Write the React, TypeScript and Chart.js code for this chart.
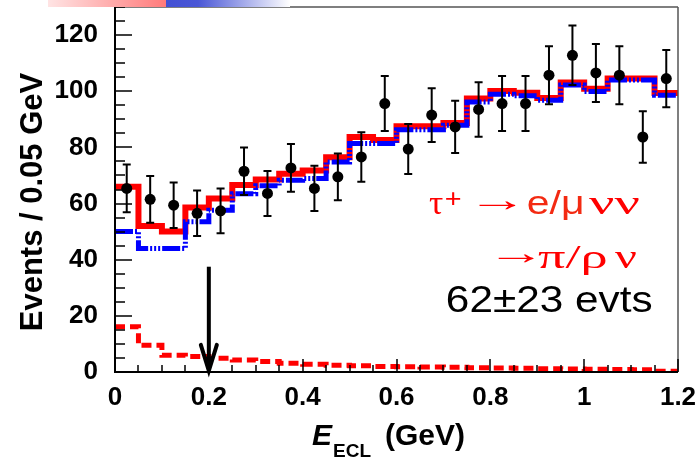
import React, { useEffect, useRef } from "react";
import { Chart, registerables } from "chart.js";

Chart.register(...registerables);

// Bin edges of E_ECL (GeV), 0.05 GeV wide
const binEdges = [
  0, 0.05, 0.1, 0.15, 0.2, 0.25, 0.3, 0.35, 0.4, 0.45, 0.5, 0.55, 0.6,
  0.65, 0.7, 0.75, 0.8, 0.85, 0.9, 0.95, 1.0, 1.05, 1.1, 1.15, 1.2,
];

// Observed events per bin and their uncertainties
const dataCounts = [
  65.4, 61.5, 59.4, 56.5, 57.4, 71.5, 63.6, 72.7, 65.4, 69.5, 76.6, 95.6,
  79.4, 91.5, 87.3, 93.5, 95.6, 95.6, 105.7, 112.8, 106.5, 105.7, 83.7, 104.5,
];
const dataErrors = [
  8.5, 8.3, 8.1, 8.1, 8.0, 8.5, 8.0, 8.5, 8.1, 8.3, 8.8, 9.8,
  8.9, 9.6, 9.3, 9.7, 9.8, 9.8, 10.3, 10.6, 10.3, 10.3, 9.2, 10.2,
];

// Total expectation (red)
const totalExpected = [
  66.0, 52.0, 50.0, 58.6, 61.8, 66.6, 68.6, 70.6, 71.8, 76.5, 83.7, 82.6,
  87.5, 87.5, 88.7, 97.4, 100.1, 99.5, 97.6, 103.1, 100.9, 104.5, 104.5, 99.4,
];

// Expectation without the signal component (blue)
const otherExpected = [
  50.0, 44.0, 44.0, 53.5, 57.6, 63.5, 66.3, 68.3, 68.9, 74.8, 81.4, 81.4,
  86.3, 86.3, 87.9, 96.2, 98.9, 98.4, 96.8, 102.2, 99.9, 104.0, 104.0, 98.6,
];

// Signal shape, tau -> e/mu nu nu and pi/rho nu (red dashed)
const signalShape = [
  16.1, 9.5, 6.0, 5.5, 4.9, 4.3, 3.7, 3.1, 2.8, 2.4, 2.2, 2.0,
  1.9, 1.8, 1.7, 1.5, 1.4, 1.3, 1.2, 1.1, 1.0, 0.9, 0.8, 0.3,
];

// Selection cut on E_ECL, and the vertical extent of its arrow (events)
const cutValue = 0.2;
const arrowFrom = 37.5;
const arrowTo = -1;

const xTickValues = [0, 0.2, 0.4, 0.6, 0.8, 1.0, 1.2];
const xTickLabels = ["0", "0.2", "0.4", "0.6", "0.8", "1", "1.2"];
const yTickValues = [0, 20, 40, 60, 80, 100, 120];

const RED = "#ff0000";
const ORANGE_RED = "#f32a12";
const BLUE = "#0000ff";
const SANS = "'Liberation Sans', Arial, Helvetica, sans-serif";
const SERIF = "'Liberation Serif', 'Times New Roman', serif";

function stepPoints(values: number[]) {
  const pts = values.map((v, i) => ({ x: binEdges[i], y: v }));
  pts.push({ x: binEdges[binEdges.length - 1], y: values[values.length - 1] });
  return pts;
}

// Draws a string so that its ink spans [x0, x1] horizontally, on baseline y.
function drawFitted(
  ctx: CanvasRenderingContext2D,
  s: string,
  x0: number,
  x1: number,
  y: number,
  font: string,
  color: string
) {
  ctx.save();
  ctx.font = font;
  ctx.fillStyle = color;
  ctx.textAlign = "left";
  ctx.textBaseline = "alphabetic";
  const m = ctx.measureText(s);
  const inkL = m.actualBoundingBoxLeft;
  const inkW = m.actualBoundingBoxLeft + m.actualBoundingBoxRight;
  const sx = inkW > 0 ? (x1 - x0) / inkW : 1;
  ctx.translate(x0, y);
  ctx.scale(sx, 1);
  ctx.fillText(s, inkL, 0);
  ctx.restore();
}

function drawText(
  ctx: CanvasRenderingContext2D,
  s: string,
  x: number,
  y: number,
  font: string,
  color: string
) {
  ctx.save();
  ctx.font = font;
  ctx.fillStyle = color;
  ctx.textAlign = "left";
  ctx.textBaseline = "alphabetic";
  ctx.fillText(s, x, y);
  ctx.restore();
}

const frameAndMarks = {
  id: "frameAndMarks",
  afterDatasetsDraw(chart: any) {
    const ctx: CanvasRenderingContext2D = chart.ctx;
    const xs = chart.scales.x;
    const ys = chart.scales.y;
    const { left, right, top, bottom } = chart.chartArea;

    // error bars
    ctx.save();
    ctx.strokeStyle = "#000";
    ctx.lineWidth = 2;
    dataCounts.forEach((v, i) => {
      const cx = xs.getPixelForValue((binEdges[i] + binEdges[i + 1]) / 2);
      const yt = ys.getPixelForValue(v + dataErrors[i]);
      const yb = ys.getPixelForValue(v - dataErrors[i]);
      ctx.beginPath();
      ctx.moveTo(cx, yt);
      ctx.lineTo(cx, yb);
      ctx.moveTo(cx - 4, yt);
      ctx.lineTo(cx + 4, yt);
      ctx.moveTo(cx - 4, yb);
      ctx.lineTo(cx + 4, yb);
      ctx.stroke();
    });
    ctx.restore();

    // frame
    ctx.save();
    ctx.strokeStyle = "#555";
    ctx.lineWidth = 1.5;
    ctx.beginPath();
    ctx.moveTo(left, top);
    ctx.lineTo(right, top);
    ctx.moveTo(right, top);
    ctx.lineTo(right, bottom);
    ctx.stroke();
    ctx.strokeStyle = "#000";
    ctx.lineWidth = 2;
    ctx.beginPath();
    ctx.moveTo(left, top);
    ctx.lineTo(left, bottom + 1);
    ctx.moveTo(left - 1, bottom);
    ctx.lineTo(right, bottom);
    ctx.stroke();

    // inward ticks
    ctx.lineWidth = 1.5;
    ctx.beginPath();
    for (let v = 0; v <= ys.max; v += 5) {
      const py = Math.round(ys.getPixelForValue(v));
      const len = v % 20 === 0 ? 17 : 10;
      ctx.moveTo(left, py);
      ctx.lineTo(left + len, py);
    }
    for (let k = 0; k <= 24; k++) {
      const px = Math.round(xs.getPixelForValue(k * 0.05));
      const len = k % 4 === 0 ? 13 : 7;
      ctx.moveTo(px, bottom);
      ctx.lineTo(px, bottom - len);
    }
    ctx.stroke();
    ctx.restore();

    // cut arrow
    const ax = xs.getPixelForValue(cutValue);
    const ay0 = ys.getPixelForValue(arrowFrom);
    const ay1 = ys.getPixelForValue(arrowTo);
    ctx.save();
    ctx.strokeStyle = "#000";
    ctx.fillStyle = "#000";
    ctx.lineWidth = 4;
    ctx.beginPath();
    ctx.moveTo(ax, ay0);
    ctx.lineTo(ax, ay1 - 6);
    ctx.stroke();
    ctx.lineJoin = "miter";
    ctx.lineCap = "round";
    ctx.beginPath();
    ctx.moveTo(ax - 8, ay1 - 30);
    ctx.lineTo(ax, ay1 - 4);
    ctx.lineTo(ax + 8, ay1 - 30);
    ctx.stroke();
    ctx.beginPath();
    ctx.moveTo(ax - 3, ay1 - 18);
    ctx.lineTo(ax, ay1);
    ctx.lineTo(ax + 3, ay1 - 18);
    ctx.closePath();
    ctx.fill();
    ctx.restore();
  },
  afterDraw(chart: any) {
    const ctx: CanvasRenderingContext2D = chart.ctx;

    // y axis title
    ctx.save();
    ctx.translate(42, 202);
    ctx.rotate(-Math.PI / 2);
    ctx.font = `bold 31px ${SANS}`;
    ctx.fillStyle = "#000";
    ctx.textAlign = "center";
    ctx.textBaseline = "alphabetic";
    ctx.fillText("Events / 0.05 GeV", 0, 0);
    ctx.restore();

    // x axis title
    drawText(ctx, "E", 312, 445, `italic bold 30px ${SANS}`, "#000");
    drawText(ctx, "ECL", 333, 457, `bold 19px ${SANS}`, "#000");
    drawText(ctx, "(GeV)", 385, 445, `bold 30px ${SANS}`, "#000");

    // decay annotation
    drawFitted(ctx, "\u03c4", 429, 443, 214, `33px ${SERIF}`, RED);
    drawFitted(ctx, "+", 446, 461, 207, `25px ${SANS}`, RED);
    drawFitted(ctx, "\u2192", 478, 517, 211, `34px ${SERIF}`, RED);
    drawFitted(ctx, "e/\u03bc", 528, 582, 214, `33px ${SANS}`, ORANGE_RED);
    drawFitted(ctx, "\u03bd\u03bd", 589, 640, 214, `33px ${SERIF}`, RED);

    drawFitted(ctx, "\u2192", 497, 535, 264, `34px ${SERIF}`, RED);
    drawFitted(ctx, "\u03c0/\u03c1", 538, 607, 268, `33px ${SERIF}`, RED);
    drawFitted(ctx, "\u03bd", 615, 637, 268, `33px ${SERIF}`, RED);

    drawFitted(ctx, "62\u00b123 evts", 447, 652, 312, `37px ${SANS}`, "#000");
  },
};

export default function App() {
  const canvasRef = useRef<HTMLCanvasElement | null>(null);

  useEffect(() => {
    const canvas = canvasRef.current;
    if (!canvas) return;

    const dataPoints = dataCounts.map((v, i) => ({
      x: (binEdges[i] + binEdges[i + 1]) / 2,
      y: v,
    }));

    const tickFont = { family: SANS, size: 26, weight: "bold" as const };

    const chart = new Chart(canvas, {
      type: "scatter",
      data: {
        datasets: [
          {
            label: "Data",
            data: dataPoints,
            pointRadius: 5.5,
            pointBackgroundColor: "#000",
            pointBorderColor: "#000",
            pointBorderWidth: 0,
            showLine: false,
            order: 0,
          },
          {
            type: "line",
            label: "Background",
            data: stepPoints(otherExpected),
            stepped: true,
            borderColor: BLUE,
            borderWidth: 5,
            borderDash: [18, 2, 2, 2, 2, 2, 2, 2],
            borderCapStyle: "butt",
            borderJoinStyle: "miter",
            pointRadius: 0,
            fill: false,
            order: 1,
          },
          {
            type: "line",
            label: "Total",
            data: stepPoints(totalExpected),
            stepped: true,
            borderColor: RED,
            borderWidth: 6,
            borderCapStyle: "butt",
            borderJoinStyle: "miter",
            pointRadius: 0,
            fill: false,
            order: 2,
          },
          {
            type: "line",
            label: "Signal",
            data: stepPoints(signalShape),
            stepped: true,
            borderColor: RED,
            borderWidth: 5,
            borderDash: [10, 5],
            borderCapStyle: "butt",
            borderJoinStyle: "miter",
            pointRadius: 0,
            fill: false,
            order: 3,
          },
        ],
      },
      options: {
        animation: false,
        responsive: false,
        maintainAspectRatio: false,
        layout: { padding: { top: 7, right: 17, left: 0, bottom: 0 } },
        plugins: {
          legend: { display: false },
          tooltip: { enabled: false },
        },
        scales: {
          x: {
            type: "linear",
            min: 0,
            max: 1.2,
            grid: { display: false, drawTicks: false },
            border: { display: false },
            ticks: {
              autoSkip: false,
              maxRotation: 0,
              padding: 10,
              color: "#000",
              font: tickFont,
              callback: (_v: any, i: number) => xTickLabels[i] ?? "",
            },
            afterBuildTicks: (s: any) => {
              s.ticks = xTickValues.map((value) => ({ value }));
            },
            afterFit: (s: any) => {
              s.height = 89;
              s.paddingLeft = 0;
              s.paddingRight = 0;
            },
          },
          y: {
            type: "linear",
            min: 0,
            max: 130,
            grid: { display: false, drawTicks: false },
            border: { display: false },
            ticks: {
              autoSkip: false,
              padding: 17,
              color: "#000",
              font: tickFont,
            },
            afterBuildTicks: (s: any) => {
              s.ticks = yTickValues.map((value) => ({ value }));
            },
            afterFit: (s: any) => {
              s.width = 115;
              s.paddingTop = 0;
              s.paddingBottom = 0;
            },
          },
        },
      } as any,
      plugins: [frameAndMarks],
    });

    return () => chart.destroy();
  }, []);

  return (
    <div style={{ position: "fixed", left: 0, top: 0, width: 695, height: 461, background: "#fff" }}>
      <div
        style={{
          position: "absolute",
          left: 48,
          top: 0,
          width: 242,
          height: 7,
          background:
            "linear-gradient(to right, #ffe4e4 0%, #ff7a7a 48.8%, #4250d4 48.8%, #4a57d6 62%, #ffffff 100%)",
        }}
      />
      <canvas ref={canvasRef} width={695} height={461} style={{ display: "block" }} />
    </div>
  );
}
